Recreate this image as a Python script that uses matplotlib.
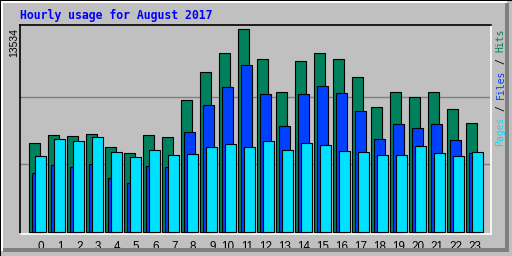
import matplotlib
matplotlib.use("Agg")
import matplotlib.pyplot as plt
from matplotlib.patches import Rectangle
import numpy as np

# hourly usage, August 2017
hours = list(range(24))
hits = [5934, 6467, 6400, 6534, 5667, 5267, 6467, 6334, 8800, 10667, 11934, 13534,
        11534, 9334, 11400, 11934, 11534, 10334, 8334, 9334, 9000, 9334, 8200, 7267]
files = [3934, 4467, 4334, 4534, 3600, 3267, 4400, 4334, 6667, 8467, 9667, 11134,
         9200, 7067, 9200, 9734, 9267, 8067, 6200, 7200, 6934, 7200, 6134, 5267]
pages = [5067, 6200, 6067, 6334, 5334, 5000, 5467, 5134, 5200, 5667, 5867, 5667,
         6067, 5467, 5934, 5800, 5400, 5334, 5134, 5134, 5734, 5267, 5067, 5334]
max_label = "13534"
title = "Hourly usage for August 2017"

HITS_C = "#00805c"
FILES_C = "#0040ff"
PAGES_C = "#00e0ff"
BG = "#c0c0c0"

W, H = 512, 256
fig = plt.figure(figsize=(W / 100, H / 100), dpi=100, facecolor=BG)


def px_rect(x, y, w, h, color):
    # rectangle in pixel coords measured from the top-left corner
    fig.add_artist(Rectangle((x / W, 1 - (y + h) / H), w / W, h / H,
                             transform=fig.transFigure, color=color, lw=0))


# 3d frame around the image
px_rect(0, 0, W, 1, "black")
px_rect(0, 0, 1, H, "black")
px_rect(1, 1, W - 6, 2, "white")
px_rect(1, 1, 2, H - 6, "white")
px_rect(3, 248, W - 7, 4, "#808080")
px_rect(505, 3, 4, 249, "#808080")

# plot area: x 20..491, y 25..234 (pixels from top)
ax = fig.add_axes([20 / W, 1 - 234 / H, 471 / W, 209 / H])
ax.set_facecolor(BG)

ymax = max(hits)
px_per_unit = 203 / ymax
ax.set_ylim(-2 / px_per_unit, 207.3 / px_per_unit)

x = np.array(hours, dtype=float)
bw = 10.5 / 19
ax.bar(x, hits, width=bw, align="edge", color=HITS_C, edgecolor="black", lw=0.8, zorder=3)
ax.bar(x + 3 / 19, files, width=bw, align="edge", color=FILES_C, edgecolor="black", lw=0.8, zorder=4)
ax.bar(x + 6 / 19, pages, width=bw, align="edge", color=PAGES_C, edgecolor="black", lw=0.8, zorder=5)

ax.set_xlim(-9 / 19, 462 / 19)
for g in (ymax / 3, 2 * ymax / 3):
    ax.axhline(g, color="#808080", lw=1.0, zorder=1)

tick_pos = [h + (12.2 / 19 if h < 10 else 9 / 19) for h in hours]
ax.set_xticks(tick_pos)
ax.set_xticklabels([str(h) for h in hours], fontsize=8.4, family="Liberation Sans")
ax.tick_params(axis="x", length=0, pad=5)
ax.set_yticks([])

ax.spines["top"].set_color("black")
ax.spines["left"].set_color("black")
ax.spines["bottom"].set_color("white")
ax.spines["right"].set_color("white")
for s in ax.spines.values():
    s.set_linewidth(1.2)

fig.text(20 / W, 1 - 19 / H, title, color="#0000ff", fontsize=8.3,
         family="DejaVu Sans Mono", weight="bold", va="baseline", ha="left")

fig.text(14.5 / W, 1 - 28 / H, max_label, rotation=90, fontsize=7.5,
         family="Liberation Sans", ha="center", va="top")

# vertical legend on the right, drawn piece by piece in its own colour
fs = 7
cw = 0.602 * fs * 100 / 72
bottom = 29 + 20 * cw
pieces = [(0, "Pages", PAGES_C), (6, "/", "black"), (8, "Files", FILES_C),
          (14, "/", "black"), (16, "Hits", HITS_C)]
for k, txt, col in pieces:
    fig.text(500.5 / W, 1 - (bottom - k * cw) / H, txt, rotation=90, color=col,
             fontsize=fs, family="DejaVu Sans Mono", ha="center", va="bottom")

fig.savefig("out.png", dpi=100, facecolor=BG)
